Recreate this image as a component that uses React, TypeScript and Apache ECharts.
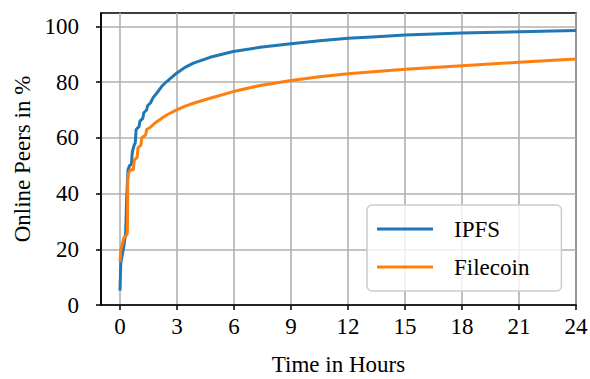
import React, { useEffect, useRef } from "react";
import * as echarts from "echarts";

const ipfsHours = [0, 0.04, 0.2, 0.3, 0.35, 0.42, 0.5, 0.6, 0.65, 0.75, 0.8, 0.85, 1.0, 1.05, 1.2, 1.25, 1.4, 1.45, 1.6, 1.75, 1.93, 2.2, 2.46, 2.98, 3.4, 3.86, 4.74, 5.96, 7.37, 9, 10.5, 12, 13.5, 15, 18, 21, 24];
const ipfsValues = [5.2, 15, 21, 26, 38, 48.5, 50, 50.5, 55, 57.5, 58, 63, 64, 66, 67, 69, 70, 71.5, 72.5, 74.5, 76, 78.5, 80.2, 83.2, 85.2, 86.8, 88.9, 91.0, 92.5, 93.8, 94.8, 95.7, 96.3, 96.9, 97.6, 98.1, 98.5];

const filecoinHours = [0, 0.04, 0.2, 0.35, 0.39, 0.41, 0.45, 0.55, 0.7, 0.75, 0.9, 0.95, 1.1, 1.15, 1.35, 1.4, 1.6, 1.9, 2.2, 2.46, 2.98, 3.4, 3.86, 4.74, 5.96, 7.37, 9, 10.5, 12, 15, 18, 21, 24];
const filecoinValues = [15.5, 19.7, 24, 25.1, 26, 44.9, 47.3, 48.5, 48.5, 52, 53, 56.5, 57.4, 60, 61, 63, 63.8, 65.6, 67, 68.2, 70, 71.3, 72.4, 74.2, 76.6, 78.8, 80.6, 81.9, 83, 84.6, 85.9, 87.1, 88.3];

const xTicks = [0, 3, 6, 9, 12, 15, 18, 21, 24];
const yTicks = [0, 20, 40, 60, 80, 100];

const FONT = "'Liberation Serif', serif";
const FS = 23;

export default function App() {
  const ref = useRef<HTMLDivElement>(null);
  useEffect(() => {
    if (!ref.current) return;
    const chart = echarts.init(ref.current, null, { renderer: "svg" });
    const pair = (xs: number[], ys: number[]) => xs.map((x, i) => [x, ys[i]]);
    chart.setOption({
      animation: false,
      textStyle: { fontFamily: FONT },
      grid: {
        left: 101,
        right: 14,
        top: 13,
        bottom: 74,
        outerBoundsMode: "none",
        containLabel: false,
        show: true,
        borderColor: "#000",
        borderWidth: 1.6,
        backgroundColor: "transparent",
      },
      legend: {
        orient: "vertical",
        left: 367,
        top: 205,
        icon: "rect",
        itemWidth: 56,
        itemHeight: 3,
        itemGap: 14,
        padding: [12, 32, 12, 10],
        backgroundColor: "rgba(255,255,255,0.8)",
        borderColor: "#cccccc",
        borderWidth: 1.5,
        borderRadius: 5,
        textStyle: {
          fontFamily: FONT,
          fontSize: FS,
          color: "#000",
          lineHeight: 24,
          padding: [0, 0, 0, 16],
        },
        data: ["IPFS", "Filecoin"],
      },
      xAxis: {
        type: "value",
        min: -1,
        max: 24,
        name: "Time in Hours",
        nameLocation: "middle",
        nameGap: 48,
        nameTextStyle: { fontFamily: FONT, fontSize: FS, color: "#000" },
        axisLine: { show: true, onZero: false, lineStyle: { color: "#000", width: 1.6 } },
        axisTick: { show: true, length: 5, inside: false, lineStyle: { color: "#000", width: 1.5 }, customValues: xTicks },
        axisLabel: { fontFamily: FONT, fontSize: FS, color: "#000", margin: 10, customValues: xTicks },
        splitLine: { show: true, lineStyle: { color: "#b0b0b0", width: 1.6 } },
      },
      yAxis: {
        type: "value",
        min: 0,
        max: 104.8,
        name: "Online Peers in %",
        nameLocation: "middle",
        nameGap: 64,
        nameTextStyle: { fontFamily: FONT, fontSize: FS, color: "#000" },
        axisLine: { show: true, onZero: false, lineStyle: { color: "#000", width: 1.6 } },
        axisTick: { show: true, length: 5, inside: false, lineStyle: { color: "#000", width: 1.5 }, customValues: yTicks },
        axisLabel: { fontFamily: FONT, fontSize: FS, color: "#000", margin: 22, customValues: yTicks },
        splitLine: { show: true, lineStyle: { color: "#b0b0b0", width: 1.6 } },
      },
      series: [
        {
          name: "IPFS",
          type: "line",
          data: pair(ipfsHours, ipfsValues),
          symbol: "none",
          color: "#1f77b4",
          lineStyle: { color: "#1f77b4", width: 3 },
          z: 3,
        },
        {
          name: "Filecoin",
          type: "line",
          data: pair(filecoinHours, filecoinValues),
          symbol: "none",
          color: "#ff7f0e",
          lineStyle: { color: "#ff7f0e", width: 3 },
          z: 4,
        },
      ],
    });
    return () => chart.dispose();
  }, []);
  return <div ref={ref} style={{ width: 590, height: 379, position: "absolute", left: 0, top: 0 }} />;
}
